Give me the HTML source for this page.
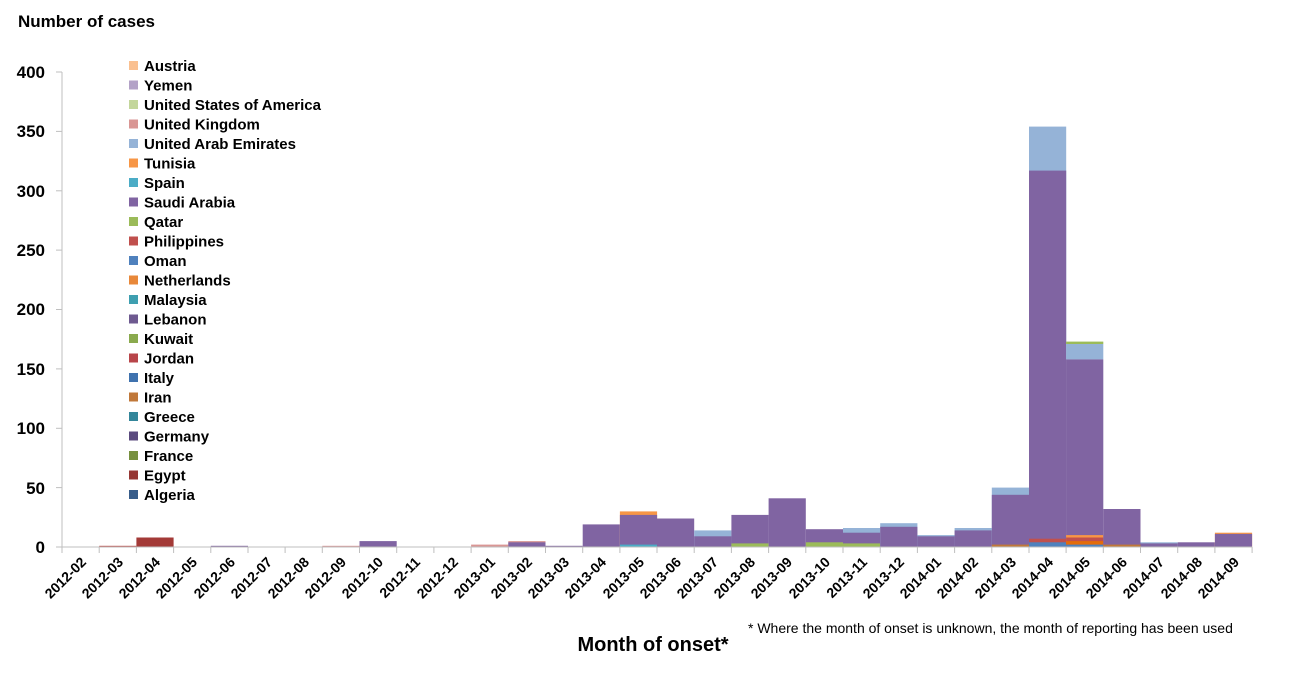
<!DOCTYPE html>
<html><head><meta charset="utf-8"><style>
body{margin:0;background:#fff}
svg{display:block;font-family:"Liberation Sans",sans-serif}
</style></head><body>
<svg width="1296" height="698" viewBox="0 0 1296 698">
<text x="18" y="27" font-size="17" font-weight="bold" fill="#000">Number of cases</text>
<g stroke="#bfbfbf" stroke-width="1">
<line x1="62" y1="72" x2="62" y2="547"/>
<line x1="56" y1="72" x2="62" y2="72"/><line x1="56" y1="131.4" x2="62" y2="131.4"/><line x1="56" y1="190.8" x2="62" y2="190.8"/><line x1="56" y1="250.1" x2="62" y2="250.1"/><line x1="56" y1="309.5" x2="62" y2="309.5"/><line x1="56" y1="368.9" x2="62" y2="368.9"/><line x1="56" y1="428.3" x2="62" y2="428.3"/><line x1="56" y1="487.6" x2="62" y2="487.6"/><line x1="56" y1="547" x2="62" y2="547"/>
</g>
<g font-size="17" font-weight="bold" text-anchor="end" fill="#000">
<text x="45" y="78">400</text><text x="45" y="137">350</text><text x="45" y="197">300</text><text x="45" y="256">250</text><text x="45" y="315">200</text><text x="45" y="375">150</text><text x="45" y="434">100</text><text x="45" y="494">50</text><text x="45" y="553">0</text>
</g>
<g>
<rect x="99.2" y="545.8" width="37.2" height="1.2" fill="#c0504d"/>
<rect x="136.4" y="537.5" width="37.2" height="9.5" fill="#a33a37"/>
<rect x="210.8" y="545.8" width="37.2" height="1.2" fill="#8064a2"/>
<rect x="322.3" y="545.8" width="37.2" height="1.2" fill="#d99694"/>
<rect x="359.5" y="541.1" width="37.2" height="5.9" fill="#8064a2"/>
<rect x="471.1" y="544.6" width="37.2" height="2.4" fill="#d99694"/>
<rect x="508.3" y="541.1" width="37.2" height="5.9" fill="#d99694"/>
<rect x="508.3" y="542.3" width="37.2" height="4.7" fill="#8064a2"/>
<rect x="545.5" y="545.8" width="37.2" height="1.2" fill="#8064a2"/>
<rect x="582.7" y="524.4" width="37.2" height="22.6" fill="#8064a2"/>
<rect x="619.9" y="511.4" width="37.2" height="35.6" fill="#f79646"/>
<rect x="619.9" y="514.9" width="37.2" height="32.1" fill="#8064a2"/>
<rect x="619.9" y="544.6" width="37.2" height="2.4" fill="#4bacc6"/>
<rect x="657" y="518.5" width="37.2" height="28.5" fill="#8064a2"/>
<rect x="694.2" y="530.4" width="37.2" height="16.6" fill="#95b3d7"/>
<rect x="694.2" y="536.3" width="37.2" height="10.7" fill="#8064a2"/>
<rect x="731.4" y="514.9" width="37.2" height="32.1" fill="#8064a2"/>
<rect x="731.4" y="543.4" width="37.2" height="3.6" fill="#9bbb59"/>
<rect x="768.6" y="498.3" width="37.2" height="48.7" fill="#8064a2"/>
<rect x="805.8" y="529.2" width="37.2" height="17.8" fill="#8064a2"/>
<rect x="805.8" y="542.3" width="37.2" height="4.7" fill="#9bbb59"/>
<rect x="843" y="528" width="37.2" height="19" fill="#95b3d7"/>
<rect x="843" y="532.7" width="37.2" height="14.3" fill="#8064a2"/>
<rect x="843" y="543.4" width="37.2" height="3.6" fill="#9bbb59"/>
<rect x="880.2" y="523.2" width="37.2" height="23.8" fill="#95b3d7"/>
<rect x="880.2" y="526.8" width="37.2" height="20.2" fill="#8064a2"/>
<rect x="917.4" y="535.1" width="37.2" height="11.9" fill="#95b3d7"/>
<rect x="917.4" y="536.3" width="37.2" height="10.7" fill="#8064a2"/>
<rect x="954.6" y="528" width="37.2" height="19" fill="#95b3d7"/>
<rect x="954.6" y="530.4" width="37.2" height="16.6" fill="#8064a2"/>
<rect x="991.8" y="487.6" width="37.2" height="59.4" fill="#95b3d7"/>
<rect x="991.8" y="494.8" width="37.2" height="52.2" fill="#8064a2"/>
<rect x="991.8" y="544.6" width="37.2" height="2.4" fill="#c0783a"/>
<rect x="1029" y="126.6" width="37.2" height="420.4" fill="#95b3d7"/>
<rect x="1029" y="170.6" width="37.2" height="376.4" fill="#8064a2"/>
<rect x="1029" y="538.7" width="37.2" height="8.3" fill="#c0504d"/>
<rect x="1029" y="542.3" width="37.2" height="4.7" fill="#4f81bd"/>
<rect x="1066.1" y="341.6" width="37.2" height="2.4" fill="#9bbb59"/>
<rect x="1066.1" y="344" width="37.2" height="15.4" fill="#95b3d7"/>
<rect x="1066.1" y="359.4" width="37.2" height="187.6" fill="#8064a2"/>
<rect x="1066.1" y="535.1" width="37.2" height="11.9" fill="#f79646"/>
<rect x="1066.1" y="537.5" width="37.2" height="9.5" fill="#c0504d"/>
<rect x="1066.1" y="541.1" width="37.2" height="5.9" fill="#e46c0a"/>
<rect x="1066.1" y="544.6" width="37.2" height="2.4" fill="#4f81bd"/>
<rect x="1103.3" y="509" width="37.2" height="38" fill="#8064a2"/>
<rect x="1103.3" y="544.6" width="37.2" height="2.4" fill="#c0783a"/>
<rect x="1140.5" y="542.3" width="37.2" height="4.7" fill="#95b3d7"/>
<rect x="1140.5" y="543.4" width="37.2" height="3.6" fill="#8064a2"/>
<rect x="1177.7" y="542.3" width="37.2" height="4.7" fill="#8064a2"/>
<rect x="1214.9" y="532.7" width="37.2" height="14.3" fill="#f79646"/>
<rect x="1214.9" y="533.9" width="37.2" height="13.1" fill="#8064a2"/>
</g>
<g stroke="#bfbfbf" stroke-width="1">
<line x1="62" y1="547" x2="1252" y2="547"/>
<path d="M62 547v6M99.2 547v6M136.4 547v6M173.6 547v6M210.8 547v6M248 547v6M285.1 547v6M322.3 547v6M359.5 547v6M396.7 547v6M433.9 547v6M471.1 547v6M508.3 547v6M545.5 547v6M582.7 547v6M619.9 547v6M657 547v6M694.2 547v6M731.4 547v6M768.6 547v6M805.8 547v6M843 547v6M880.2 547v6M917.4 547v6M954.6 547v6M991.8 547v6M1029 547v6M1066.1 547v6M1103.3 547v6M1140.5 547v6M1177.7 547v6M1214.9 547v6M1252.1 547v6"/>
</g>
<g font-size="14" font-weight="bold" text-anchor="end" fill="#000">
<text transform="translate(87,563) rotate(-45)">2012-02</text>
<text transform="translate(124,563) rotate(-45)">2012-03</text>
<text transform="translate(161,563) rotate(-45)">2012-04</text>
<text transform="translate(198,563) rotate(-45)">2012-05</text>
<text transform="translate(236,563) rotate(-45)">2012-06</text>
<text transform="translate(273,563) rotate(-45)">2012-07</text>
<text transform="translate(310,563) rotate(-45)">2012-08</text>
<text transform="translate(347,563) rotate(-45)">2012-09</text>
<text transform="translate(384,563) rotate(-45)">2012-10</text>
<text transform="translate(421,563) rotate(-45)">2012-11</text>
<text transform="translate(459,563) rotate(-45)">2012-12</text>
<text transform="translate(496,563) rotate(-45)">2013-01</text>
<text transform="translate(533,563) rotate(-45)">2013-02</text>
<text transform="translate(570,563) rotate(-45)">2013-03</text>
<text transform="translate(607,563) rotate(-45)">2013-04</text>
<text transform="translate(645,563) rotate(-45)">2013-05</text>
<text transform="translate(682,563) rotate(-45)">2013-06</text>
<text transform="translate(719,563) rotate(-45)">2013-07</text>
<text transform="translate(756,563) rotate(-45)">2013-08</text>
<text transform="translate(793,563) rotate(-45)">2013-09</text>
<text transform="translate(831,563) rotate(-45)">2013-10</text>
<text transform="translate(868,563) rotate(-45)">2013-11</text>
<text transform="translate(905,563) rotate(-45)">2013-12</text>
<text transform="translate(942,563) rotate(-45)">2014-01</text>
<text transform="translate(979,563) rotate(-45)">2014-02</text>
<text transform="translate(1017,563) rotate(-45)">2014-03</text>
<text transform="translate(1054,563) rotate(-45)">2014-04</text>
<text transform="translate(1091,563) rotate(-45)">2014-05</text>
<text transform="translate(1128,563) rotate(-45)">2014-06</text>
<text transform="translate(1165,563) rotate(-45)">2014-07</text>
<text transform="translate(1203,563) rotate(-45)">2014-08</text>
<text transform="translate(1240,563) rotate(-45)">2014-09</text>
</g>
<text x="653" y="651" font-size="20" font-weight="bold" text-anchor="middle" fill="#000">Month of onset*</text>
<text x="748" y="633" font-size="14" fill="#000">* Where the month of onset is unknown, the month of reporting has been used</text>
<g font-size="15" font-weight="bold" fill="#000">
<rect x="129" y="61" width="9" height="9" fill="#fac090"/><text x="144" y="71">Austria</text>
<rect x="129" y="80.5" width="9" height="9" fill="#b3a2c7"/><text x="144" y="90.5">Yemen</text>
<rect x="129" y="100" width="9" height="9" fill="#c3d69b"/><text x="144" y="110">United States of America</text>
<rect x="129" y="119.5" width="9" height="9" fill="#d99694"/><text x="144" y="129.5">United Kingdom</text>
<rect x="129" y="139" width="9" height="9" fill="#95b3d7"/><text x="144" y="149">United Arab Emirates</text>
<rect x="129" y="158.5" width="9" height="9" fill="#f79646"/><text x="144" y="168.5">Tunisia</text>
<rect x="129" y="178" width="9" height="9" fill="#4bacc6"/><text x="144" y="188">Spain</text>
<rect x="129" y="197.5" width="9" height="9" fill="#8064a2"/><text x="144" y="207.5">Saudi Arabia</text>
<rect x="129" y="217" width="9" height="9" fill="#9bbb59"/><text x="144" y="227">Qatar</text>
<rect x="129" y="236.5" width="9" height="9" fill="#c0504d"/><text x="144" y="246.5">Philippines</text>
<rect x="129" y="256" width="9" height="9" fill="#4f81bd"/><text x="144" y="266">Oman</text>
<rect x="129" y="275.5" width="9" height="9" fill="#e8883a"/><text x="144" y="285.5">Netherlands</text>
<rect x="129" y="295" width="9" height="9" fill="#3e9fb0"/><text x="144" y="305">Malaysia</text>
<rect x="129" y="314.5" width="9" height="9" fill="#6e5a90"/><text x="144" y="324.5">Lebanon</text>
<rect x="129" y="334" width="9" height="9" fill="#8aaa4e"/><text x="144" y="344">Kuwait</text>
<rect x="129" y="353.5" width="9" height="9" fill="#b8454a"/><text x="144" y="363.5">Jordan</text>
<rect x="129" y="373" width="9" height="9" fill="#3f72ae"/><text x="144" y="383">Italy</text>
<rect x="129" y="392.5" width="9" height="9" fill="#c0783a"/><text x="144" y="402.5">Iran</text>
<rect x="129" y="412" width="9" height="9" fill="#33869a"/><text x="144" y="422">Greece</text>
<rect x="129" y="431.5" width="9" height="9" fill="#5a4a7e"/><text x="144" y="441.5">Germany</text>
<rect x="129" y="451" width="9" height="9" fill="#77903f"/><text x="144" y="461">France</text>
<rect x="129" y="470.5" width="9" height="9" fill="#963734"/><text x="144" y="480.5">Egypt</text>
<rect x="129" y="490" width="9" height="9" fill="#385d8a"/><text x="144" y="500">Algeria</text>
</g>
</svg>
</body></html>
